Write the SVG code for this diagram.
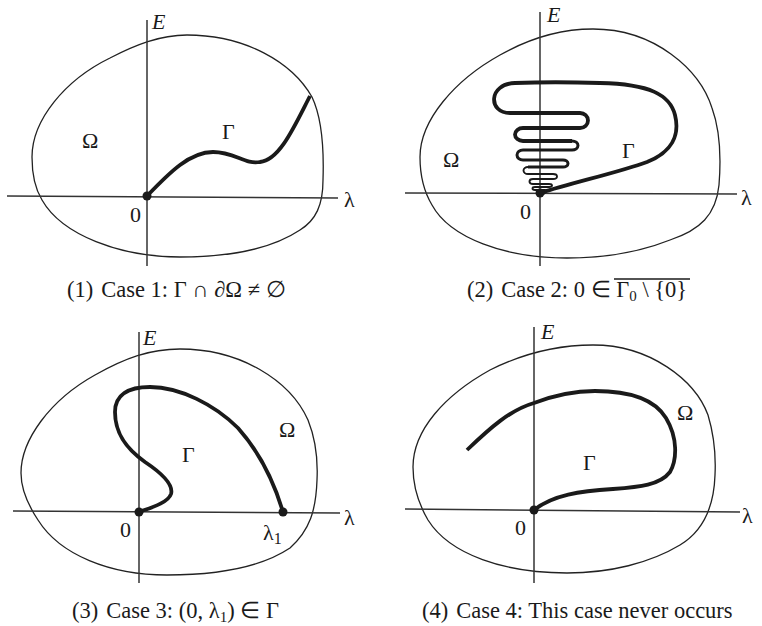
<svg xmlns="http://www.w3.org/2000/svg" width="762" height="626" viewBox="0 0 762 626">
<style>
.bg{fill:#fff}
.blob{fill:none;stroke:#222;stroke-width:1.3}
.axis{fill:none;stroke:#333;stroke-width:1.5}
.gam{fill:none;stroke:#1a1a1a;stroke-width:3.8;stroke-linecap:butt;stroke-linejoin:round}
.dot{fill:#1a1a1a}
.lbl{font-family:"Liberation Serif","Times New Roman",serif;font-size:22px;fill:#1a1a1a}
.it{font-style:italic}
.cap{font-family:"Liberation Serif","Times New Roman",serif;font-size:22.5px;fill:#1a1a1a}
</style>
<rect class="bg" x="0" y="0" width="762" height="626"/>

<g id="panel1">
<path class="blob" d="M187,35 C245,35 292,62 312,97 C322,118 324,150 323,180 C323,205 316,220 300,230 C270,250 225,257 180,257 C120,257 62,235 42,200 C34,187 32,172 32,157 C32,120 65,80 110,58 C135,45 160,35 187,35 Z"/>
<line class="axis" x1="147" y1="20" x2="147" y2="266"/>
<line class="axis" x1="7" y1="196" x2="338" y2="198"/>
<path class="gam" d="M147,196 C170,172 190,152 213,152 C235,152 245,165 260,162 C280,160 295,125 310,96"/>
<circle class="dot" cx="147" cy="196" r="4.5"/>
<text class="lbl it" x="152" y="29">E</text>
<text class="lbl" x="344" y="207">λ</text>
<text class="lbl" x="130" y="222">0</text>
<text class="lbl" x="82" y="148">Ω</text>
<text class="lbl" x="222" y="139">Γ</text>
<text class="cap" x="67" y="297">(1)<tspan dx="8">Case 1: Γ ∩ ∂Ω ≠ ∅</tspan></text>
</g>

<g id="panel2">
<path class="blob" d="M593,29 C655,29 700,70 712,108 C720,130 721,160 719,185 C716,215 700,230 670,240 C640,252 605,258 567,258 C505,258 450,238 432,205 C423,190 420,172 420,157 C420,120 455,80 500,55 C530,38 560,29 593,29 Z"/>
<line class="axis" x1="540" y1="12" x2="540" y2="266"/>
<line class="axis" x1="405" y1="193" x2="737" y2="194"/>
<path class="gam" d="M540,193 C575,182 620,172 647,162 C672,152 680,135 675,115 C670,95 650,84 600,83 C570,82 540,82 515,83 C488,84 488,113 510,113 L580,113 A8 7.5 0 0 1 580,128 L523,128 A8 6.5 0 0 0 523,141 L572,141"/>
<path class="gam" style="stroke-width:3" d="M572,141 A6 4.5 0 0 1 572,150 L523,150 A6 5 0 0 0 523,160 L563,160 A5 3.5 0 0 1 563,167 L528,167"/>
<path class="gam" style="stroke-width:1.9" d="M528,167 A4.5 3.5 0 0 0 528,174 L553,174 A4 2.5 0 0 1 553,179 L533,179 A3.5 2.5 0 0 0 533,184 L549,184 A3 1.5 0 0 1 549,187 L535,187 A2.5 1.5 0 0 0 535,190 L545,190 A2 1.5 0 0 1 540,193"/>
<circle class="dot" cx="540" cy="193" r="4.5"/>
<text class="lbl it" x="547" y="22">E</text>
<text class="lbl" x="741" y="205">λ</text>
<text class="lbl" x="520" y="219">0</text>
<text class="lbl" x="443" y="167">Ω</text>
<text class="lbl" x="622" y="158">Γ</text>
<text class="cap" x="467" y="297">(2)<tspan dx="8">Case 2: 0 ∈ Γ</tspan><tspan dy="4" font-size="15">0</tspan><tspan dy="-4"> \ {0}</tspan></text>
<line x1="614" y1="279" x2="690" y2="279" stroke="#1a1a1a" stroke-width="1.5"/>
</g>

<g id="panel3">
<path class="blob" d="M180,349 C240,349 290,380 308,420 C316,440 318,460 317,480 C316,510 310,530 290,548 C260,568 215,575 167,575 C110,575 60,555 38,520 C26,502 21,488 21,473 C21,440 50,400 95,375 C125,358 150,349 180,349 Z"/>
<line class="axis" x1="139" y1="332" x2="139" y2="583"/>
<line class="axis" x1="13" y1="511" x2="340" y2="513"/>
<path class="gam" d="M139,512 C150,508 168,503 171,494 C174,484 160,472 145,462 C128,450 115,435 115,412 C115,395 128,387 150,387 C180,387 215,405 238,428 C262,455 275,485 283,512"/>
<circle class="dot" cx="139" cy="512" r="4.5"/>
<circle class="dot" cx="283" cy="512" r="4.5"/>
<text class="lbl it" x="143" y="345">E</text>
<text class="lbl" x="344" y="525">λ</text>
<text class="lbl" x="120" y="537">0</text>
<text class="lbl" x="263" y="540">λ<tspan dy="4" font-size="16">1</tspan></text>
<text class="lbl" x="279" y="437">Ω</text>
<text class="lbl" x="182" y="462">Γ</text>
<text class="cap" x="72" y="618">(3)<tspan dx="8">Case 3: (0, λ</tspan><tspan dy="4" font-size="15">1</tspan><tspan dy="-4">) ∈ Γ</tspan></text>
</g>

<g id="panel4">
<path class="blob" d="M593,345 C650,345 695,380 708,415 C714,435 716,455 715,475 C714,505 705,530 680,545 C650,563 610,573 567,573 C505,573 450,555 428,520 C418,503 413,485 413,467 C413,430 445,395 490,370 C520,355 555,345 593,345 Z"/>
<line class="axis" x1="534" y1="327" x2="534" y2="583"/>
<line class="axis" x1="405" y1="509" x2="740" y2="512"/>
<path class="gam" d="M467,450 C490,428 510,410 534,403 C555,395 575,391 595,391 C630,391 655,400 666,418 C678,438 677,460 670,472 C660,485 640,487 613,489 C580,491 553,495 534,510"/>
<circle class="dot" cx="534" cy="510" r="4.5"/>
<text class="lbl it" x="541" y="339">E</text>
<text class="lbl" x="742" y="523">λ</text>
<text class="lbl" x="515" y="535">0</text>
<text class="lbl" x="677" y="420">Ω</text>
<text class="lbl" x="583" y="470">Γ</text>
<text class="cap" x="422" y="618">(4)<tspan dx="8">Case 4: This case never occurs</tspan></text>
</g>
</svg>
